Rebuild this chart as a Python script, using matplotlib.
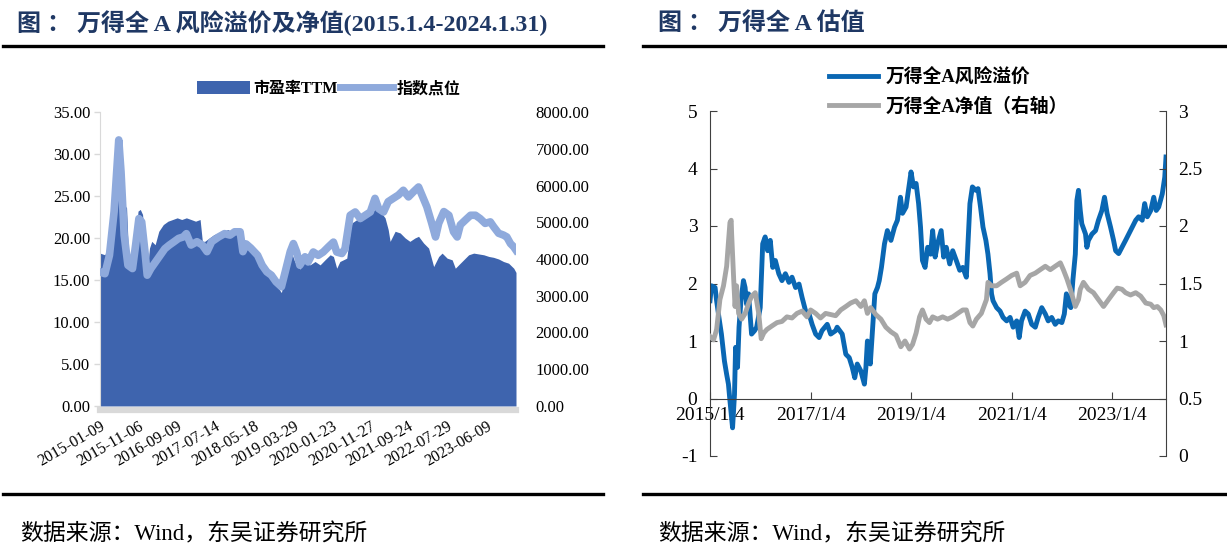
import matplotlib
matplotlib.use('Agg')
import matplotlib.pyplot as plt
import pandas as pd
from matplotlib.lines import Line2D
from matplotlib.patches import Patch
from matplotlib.font_manager import FontProperties
from matplotlib.ticker import FuncFormatter

plt.rcParams['axes.unicode_minus'] = False

SERIF = 'Liberation Serif'
MIXED = ['Liberation Serif', 'Noto Sans CJK SC']

# ---- left chart: PE TTM (area) and index level (line) ----
pe_dates = ["2015-01-09", "2015-02-17", "2015-03-14", "2015-04-13", "2015-05-01", "2015-05-19",
            "2015-06-07", "2015-07-02", "2015-07-20", "2015-08-08", "2015-08-26", "2015-09-24",
            "2015-10-19", "2015-11-07", "2015-11-25", "2015-12-13", "2016-01-01", "2016-01-19",
            "2016-02-06", "2016-02-24", "2016-03-22", "2016-04-20", "2016-05-26", "2016-07-02",
            "2016-08-08", "2016-09-13", "2016-10-19", "2016-11-25", "2017-01-01", "2017-02-06",
            "2017-03-14", "2017-04-01", "2017-04-20", "2017-05-26", "2017-07-02", "2017-08-08",
            "2017-09-13", "2017-10-19", "2017-11-25", "2018-01-01", "2018-01-26", "2018-02-24",
            "2018-04-01", "2018-05-08", "2018-06-14", "2018-07-20", "2018-08-26", "2018-10-01",
            "2018-11-07", "2018-12-20", "2019-01-30", "2019-03-10", "2019-04-04", "2019-05-15",
            "2019-06-25", "2019-08-04", "2019-09-13", "2019-10-23", "2019-12-01", "2020-01-11",
            "2020-02-06", "2020-03-03", "2020-03-28", "2020-05-22", "2020-06-20", "2020-07-02",
            "2020-08-11", "2020-09-17", "2020-10-16", "2020-11-25", "2021-01-01", "2021-02-10",
            "2021-03-22", "2021-04-16", "2021-05-01", "2021-06-10", "2021-07-20", "2021-08-29",
            "2021-10-05", "2021-11-14", "2021-12-13", "2022-01-22", "2022-03-03", "2022-04-12",
            "2022-05-22", "2022-06-18", "2022-07-28", "2022-09-06", "2022-10-01", "2022-10-27",
            "2022-12-06", "2023-01-15", "2023-02-24", "2023-04-05", "2023-05-15", "2023-06-25",
            "2023-07-31", "2023-09-10", "2023-10-19", "2023-11-28", "2024-01-08", "2024-01-26"]
pe_vals = [18.2, 18.0, 19.2, 24.4, 25.4, 24.6,
           26.0, 24.4, 24.0, 23.6, 17.2, 16.8,
           20.0, 23.2, 23.4, 22.8, 19.2, 16.0,
           18.8, 19.6, 19.2, 20.8, 21.6, 22.0,
           22.2, 22.4, 22.2, 22.4, 22.2, 22.0,
           22.2, 19.6, 19.6, 20.0, 20.4, 20.6,
           20.8, 21.0, 20.8, 21.0, 20.8, 19.2,
           19.6, 18.8, 18.2, 17.2, 16.2, 15.2,
           14.4, 13.5, 17.1, 18.3, 17.2, 16.3,
           17.2, 16.8, 17.2, 16.8, 17.4, 18.0,
           17.8, 16.4, 17.2, 17.6, 21.0, 21.8,
           22.2, 22.4, 22.8, 23.0, 23.4, 23.2,
           22.4, 21.0, 19.6, 20.8, 20.6, 20.0,
           19.6, 20.0, 20.2, 19.4, 18.8, 16.6,
           17.8, 18.2, 17.6, 17.4, 16.4, 16.8,
           17.4, 18.0, 18.2, 18.1, 18.0, 17.8,
           17.7, 17.5, 17.2, 17.0, 16.4, 15.9]

idx_dates = ["2015-01-09", "2015-02-17", "2015-03-25", "2015-05-01", "2015-06-07", "2015-06-25",
             "2015-07-20", "2015-08-19", "2015-09-24", "2015-10-19", "2015-11-14", "2015-12-06",
             "2016-01-01", "2016-01-19", "2016-02-17", "2016-03-25", "2016-05-01", "2016-06-07",
             "2016-07-13", "2016-08-19", "2016-09-24", "2016-10-31", "2016-11-25", "2017-01-01",
             "2017-02-17", "2017-04-01", "2017-05-08", "2017-06-14", "2017-08-08", "2017-09-24",
             "2017-11-07", "2017-12-13", "2018-01-26", "2018-02-17", "2018-03-14", "2018-04-20",
             "2018-06-14", "2018-07-20", "2018-08-26", "2018-10-01", "2018-11-07", "2018-12-20",
             "2019-01-19", "2019-02-28", "2019-03-25", "2019-04-20", "2019-05-15", "2019-06-25",
             "2019-07-20", "2019-08-30", "2019-10-08", "2019-11-17", "2019-12-28", "2020-02-06",
             "2020-03-03", "2020-04-13", "2020-05-08", "2020-06-18", "2020-07-28", "2020-09-06",
             "2020-10-16", "2020-11-25", "2021-01-01", "2021-01-30", "2021-03-10", "2021-04-16",
             "2021-05-26", "2021-07-06", "2021-08-14", "2021-09-24", "2021-11-03", "2021-12-13",
             "2022-02-17", "2022-03-28", "2022-04-27", "2022-05-22", "2022-07-02", "2022-08-11",
             "2022-09-17", "2022-10-16", "2022-11-10", "2022-12-20", "2023-01-30", "2023-03-10",
             "2023-04-16", "2023-05-26", "2023-07-06", "2023-08-01", "2023-09-10", "2023-10-19",
             "2023-11-14", "2023-12-13", "2024-01-08", "2024-01-26"]
idx_vals = [3650, 3600, 4100, 5290, 7240, 6370,
            4650, 3830, 3740, 4380, 5100, 5010,
            4200, 3560, 3740, 3920, 4100, 4280,
            4380, 4470, 4560, 4600, 4690, 4380,
            4470, 4380, 4200, 4470, 4600, 4690,
            4650, 4740, 4740, 4200, 4410, 4300,
            4100, 3830, 3650, 3560, 3380, 3245,
            3650, 4200, 4420, 4190, 3830, 4060,
            3920, 4190, 4100, 4190, 4330, 4460,
            4190, 4150, 4280, 5190, 5280, 5100,
            5190, 5280, 5650, 5370, 5280, 5560,
            5650, 5740, 5870, 5690, 5830, 5960,
            5420, 4970, 4600, 4970, 5290, 5190,
            4740, 4600, 4930, 5060, 5190, 5190,
            5100, 4970, 5010, 4880, 4700, 4650,
            4600, 4420, 4330, 4240]

left_tick_dates = ["2015-01-09", "2015-11-06", "2016-09-09", "2017-07-14", "2018-05-18", "2019-03-29",
                   "2020-01-23", "2020-11-27", "2021-09-24", "2022-07-29", "2023-06-09"]

# ---- right chart: risk premium (left axis) and net value (right axis) ----
rp_dates = ["2015-01-04", "2015-01-15", "2015-02-10", "2015-02-21", "2015-03-10", "2015-03-28",
            "2015-04-19", "2015-05-05", "2015-05-18", "2015-05-29", "2015-06-17", "2015-07-01",
            "2015-07-09", "2015-07-23", "2015-08-03", "2015-08-17", "2015-09-04", "2015-09-16",
            "2015-09-27", "2015-10-11", "2015-10-22", "2015-11-02", "2015-11-24", "2015-12-09",
            "2016-01-04", "2016-01-22", "2016-02-09", "2016-02-27", "2016-03-17", "2016-04-04",
            "2016-04-23", "2016-05-18", "2016-06-10", "2016-07-05", "2016-07-31", "2016-08-22",
            "2016-09-17", "2016-10-12", "2016-11-03", "2016-11-29", "2016-12-24", "2017-01-15",
            "2017-02-10", "2017-03-07", "2017-03-28", "2017-05-05", "2017-05-30", "2017-07-05",
            "2017-07-16", "2017-08-22", "2017-09-17", "2017-10-12", "2017-11-03", "2017-11-21",
            "2017-12-09", "2018-01-04", "2018-01-30", "2018-02-10", "2018-02-21", "2018-03-14",
            "2018-03-28", "2018-04-16", "2018-05-05", "2018-05-18", "2018-06-03", "2018-06-25",
            "2018-07-16", "2018-08-11", "2018-09-06", "2018-09-27", "2018-10-19", "2018-11-03",
            "2018-11-29", "2018-12-16", "2019-01-04", "2019-01-22", "2019-02-10", "2019-02-28",
            "2019-03-14", "2019-03-28", "2019-04-16", "2019-05-05", "2019-05-26", "2019-06-10",
            "2019-06-28", "2019-07-16", "2019-08-11", "2019-08-29", "2019-09-17", "2019-10-12",
            "2019-11-03", "2019-11-29", "2019-12-24", "2020-01-15", "2020-02-10", "2020-03-07",
            "2020-03-25", "2020-04-19", "2020-05-05", "2020-05-23", "2020-06-10", "2020-07-01",
            "2020-07-16", "2020-07-31", "2020-08-11", "2020-08-22", "2020-09-17", "2020-10-12",
            "2020-11-03", "2020-11-29", "2020-12-24", "2021-01-15", "2021-02-10", "2021-02-28",
            "2021-03-17", "2021-04-12", "2021-05-05", "2021-05-30", "2021-06-25", "2021-07-16",
            "2021-08-11", "2021-09-06", "2021-09-27", "2021-10-22", "2021-11-17", "2021-12-09",
            "2022-01-04", "2022-01-22", "2022-02-06", "2022-02-21", "2022-03-10", "2022-03-25",
            "2022-04-12", "2022-04-23", "2022-05-05", "2022-05-18", "2022-05-29", "2022-06-25",
            "2022-07-05", "2022-07-16", "2022-08-11", "2022-09-06", "2022-09-27", "2022-10-22",
            "2022-11-10", "2022-11-29", "2022-12-24", "2023-01-15", "2023-01-30", "2023-02-21",
            "2023-03-17", "2023-04-12", "2023-05-05", "2023-05-30", "2023-06-25", "2023-07-16",
            "2023-08-11", "2023-08-29", "2023-09-17", "2023-10-12", "2023-11-03", "2023-11-21",
            "2023-12-09", "2024-01-04", "2024-01-22", "2024-01-29", "2024-01-31"]
rp_vals = [1.70, 1.96, 1.93, 1.70, 1.41, 1.12,
           0.65, 0.42, 0.25, -0.04, -0.51, 0.07,
           0.89, 0.54, 1.24, 1.70, 2.05, 1.93,
           1.64, 1.82, 1.47, 1.12, 1.18, 1.24,
           1.58, 2.69, 2.81, 2.57, 2.75, 2.28,
           2.40, 2.17, 2.05, 2.17, 2.02, 2.11,
           1.93, 1.99, 1.76, 1.52, 1.47, 1.29,
           1.12, 1.06, 1.18, 1.29, 1.12, 1.18,
           1.24, 1.12, 0.77, 0.71, 0.54, 0.36,
           0.60, 0.48, 0.25, 0.54, 1.00, 0.60,
           1.12, 1.82, 1.93, 2.05, 2.28, 2.69,
           2.92, 2.75, 2.98, 3.10, 3.50, 3.22,
           3.33, 3.62, 3.94, 3.68, 3.74, 3.39,
           2.98, 2.40, 2.28, 2.63, 2.51, 2.92,
           2.46, 2.69, 2.92, 2.46, 2.63, 2.34,
           2.57, 2.40, 2.23, 2.28, 2.11, 3.39,
           3.68, 3.62, 3.65, 3.33, 2.98, 2.75,
           2.51, 2.17, 1.82, 1.70, 1.58, 1.52,
           1.41, 1.35, 1.41, 1.24, 1.35, 1.06,
           1.35, 1.52, 1.47, 1.29, 1.24, 1.41,
           1.58, 1.47, 1.35, 1.41, 1.29, 1.35,
           1.32, 1.47, 1.82, 1.64, 1.58, 2.05,
           2.51, 3.44, 3.62, 3.27, 3.04, 2.86,
           2.63, 2.75, 2.86, 2.92, 3.10, 3.27,
           3.50, 3.22, 2.98, 2.75, 2.57, 2.52,
           2.63, 2.75, 2.86, 2.98, 3.10, 3.16,
           3.10, 3.39, 3.16, 3.27, 3.50, 3.27,
           3.33, 3.56, 3.85, 4.14, 4.20]

nv_dates = ["2015-01-04", "2015-01-30", "2015-02-21", "2015-03-17", "2015-04-12", "2015-05-05",
            "2015-05-18", "2015-05-29", "2015-06-07", "2015-06-10", "2015-06-25", "2015-07-05",
            "2015-07-16", "2015-07-31", "2015-08-22", "2015-09-17", "2015-10-12", "2015-11-03",
            "2015-11-29", "2015-12-24", "2016-01-11", "2016-01-30", "2016-02-21", "2016-03-28",
            "2016-05-05", "2016-06-10", "2016-07-16", "2016-08-22", "2016-09-27", "2016-11-03",
            "2016-12-09", "2017-01-04", "2017-02-10", "2017-03-17", "2017-04-23", "2017-05-30",
            "2017-07-05", "2017-08-11", "2017-09-17", "2017-10-22", "2017-11-29", "2018-01-04",
            "2018-01-30", "2018-02-21", "2018-03-17", "2018-04-23", "2018-05-30", "2018-07-05",
            "2018-08-11", "2018-09-17", "2018-10-22", "2018-11-21", "2018-12-24", "2019-01-15",
            "2019-02-10", "2019-03-07", "2019-03-28", "2019-04-23", "2019-05-18", "2019-06-10",
            "2019-07-16", "2019-08-22", "2019-09-27", "2019-11-03", "2019-12-09", "2020-01-15",
            "2020-02-10", "2020-03-07", "2020-03-28", "2020-04-23", "2020-05-29", "2020-07-05",
            "2020-07-16", "2020-08-11", "2020-09-17", "2020-10-22", "2020-11-29", "2021-01-04",
            "2021-02-10", "2021-03-07", "2021-04-12", "2021-05-18", "2021-06-25", "2021-07-31",
            "2021-09-06", "2021-10-12", "2021-11-17", "2021-12-24", "2022-01-15", "2022-02-10",
            "2022-03-07", "2022-04-12", "2022-05-05", "2022-05-18", "2022-06-10", "2022-07-16",
            "2022-08-22", "2022-09-27", "2022-11-03", "2022-12-09", "2023-01-15", "2023-02-10",
            "2023-03-17", "2023-04-12", "2023-05-18", "2023-06-25", "2023-07-31", "2023-09-06",
            "2023-10-12", "2023-11-03", "2023-11-29", "2023-12-24", "2024-01-15", "2024-01-31"]
nv_vals = [1.04, 1.01, 1.10, 1.36, 1.48, 1.65,
           1.86, 2.03, 2.05, 1.94, 1.54, 1.30,
           1.48, 1.24, 1.19, 1.24, 1.33, 1.39,
           1.42, 1.24, 1.02, 1.07, 1.10, 1.13,
           1.16, 1.17, 1.21, 1.20, 1.24, 1.26,
           1.21, 1.27, 1.24, 1.20, 1.24, 1.23,
           1.22, 1.27, 1.30, 1.33, 1.35, 1.30,
           1.35, 1.24, 1.29, 1.23, 1.19, 1.12,
           1.08, 1.05, 0.95, 1.00, 0.93, 0.97,
           1.07, 1.21, 1.27, 1.19, 1.16, 1.21,
           1.19, 1.21, 1.19, 1.21, 1.24, 1.27,
           1.27, 1.16, 1.13, 1.19, 1.24, 1.36,
           1.51, 1.48, 1.48, 1.51, 1.54, 1.57,
           1.59, 1.48, 1.51, 1.57, 1.59, 1.62,
           1.65, 1.62, 1.65, 1.68, 1.62, 1.54,
           1.45, 1.30, 1.36, 1.45, 1.51, 1.45,
           1.42, 1.36, 1.30, 1.36, 1.42, 1.46,
           1.45, 1.42, 1.40, 1.42, 1.39, 1.33,
           1.32, 1.29, 1.30, 1.27, 1.22, 1.14]

right_tick_dates = ["2015-01-04", "2017-01-04", "2019-01-04", "2021-01-04", "2023-01-04"]
right_tick_labels = ["2015/1/4", "2017/1/4", "2019/1/4", "2021/1/4", "2023/1/4"]

c_pe = '#3E64AE'
c_idx = '#8FAADC'
c_rp = '#0A67B3'
c_nv = '#A6A6A6'
c_title = '#1F3864'

fig = plt.figure(figsize=(12.27, 5.55), dpi=100)

# titles, separator lines, source notes
fig.text(0.014, 0.958, '图 ： 万得全 A 风险溢价及净值(2015.1.4-2024.1.31)', family=MIXED,
         weight='bold', fontsize=17.3, color=c_title, va='center', ha='left')
fig.text(0.536, 0.958, '图 ： 万得全 A 估值', family=MIXED,
         weight='bold', fontsize=17.3, color=c_title, va='center', ha='left')
for y in (1 - 45.5 / 555, 1 - 494 / 555):
    fig.add_artist(Line2D([3 / 1227, 603 / 1227], [y, y], color='black', lw=2.4))
    fig.add_artist(Line2D([643 / 1227, 1.0], [y, y], color='black', lw=2.4))
for x in (0.016, 0.536):
    fig.text(x, 1 - 534 / 555, '数据来源：Wind，东吴证券研究所', family=MIXED,
             fontsize=16.5, color='black', va='center', ha='left')

# ---- left chart ----
ax1 = fig.add_axes([100 / 1227, 1 - 406 / 555, 416 / 1227, 294 / 555])
ax1.fill_between(pd.to_datetime(pe_dates), pe_vals, 0, color=c_pe, lw=0, zorder=1)
ax1.set_ylim(0, 35)
ax1.set_yticks(range(0, 36, 5))
ax1.yaxis.set_major_formatter(FuncFormatter(lambda v, p: f'{v:.2f}'))
ax1.set_xlim(pd.Timestamp('2015-01-09'), pd.Timestamp('2024-01-26'))
for s in ('top', 'right'):
    ax1.spines[s].set_visible(False)
ax1.spines['left'].set_color('#D9D9D9')
ax1.spines['bottom'].set_color('#D9D9D9')
ax1.spines['bottom'].set_linewidth(4.5)
ax1.spines['bottom'].set_position(('outward', 3))
ax1.tick_params(axis='y', colors='#D9D9D9', labelcolor='black', length=4, width=1, pad=3,
                labelsize=12)

ax1b = ax1.twinx()
ax1b.plot(pd.to_datetime(idx_dates), idx_vals, color=c_idx, lw=5.5, solid_joinstyle='round')
ax1b.set_ylim(0, 8000)
ax1b.set_yticks(range(0, 8001, 1000))
ax1b.yaxis.set_major_formatter(FuncFormatter(lambda v, p: f'{v:.2f}'))
for s in ax1b.spines.values():
    s.set_visible(False)
ax1b.tick_params(axis='y', length=0, pad=14, labelsize=12)

ax1.set_xticks(pd.to_datetime(left_tick_dates))
ax1.set_xticklabels(left_tick_dates)
ax1.tick_params(axis='x', length=0, pad=6, labelsize=11.5, labelrotation=30)

fig.legend([Patch(facecolor=c_pe, edgecolor='none'), Line2D([], [], color=c_idx, lw=5)],
           ['市盈率TTM', '指数点位'], loc='center left', bbox_to_anchor=(197 / 1227, 1 - 89 / 555),
           ncol=2, frameon=False, borderpad=0, borderaxespad=0, handlelength=3.3,
           handleheight=0.9, handletextpad=0.2, columnspacing=0.2,
           prop=FontProperties(family=MIXED, weight='bold', size=11.5))

# ---- right chart ----
ax2 = fig.add_axes([710 / 1227, 1 - 456 / 555, 456 / 1227, 345 / 555])
ax2.plot(pd.to_datetime(rp_dates), rp_vals, color=c_rp, lw=3.5)
ax2.set_ylim(-1, 5)
ax2.set_yticks(range(-1, 6))
ax2.set_xlim(pd.Timestamp('2015-01-04'), pd.Timestamp('2024-01-31'))
ax2.spines['top'].set_visible(False)
ax2.spines['right'].set_visible(False)
ax2.spines['bottom'].set_position(('data', 0))
for s in ('left', 'bottom'):
    ax2.spines[s].set_color('#404040')

ax2b = ax2.twinx()
ax2b.plot(pd.to_datetime(nv_dates), nv_vals, color=c_nv, lw=3.5)
ax2b.set_ylim(0, 3)
ax2b.set_yticks([0, 0.5, 1, 1.5, 2, 2.5, 3])
ax2b.yaxis.set_major_formatter(FuncFormatter(lambda v, p: f'{v:g}'))
for s in ('top', 'left', 'bottom'):
    ax2b.spines[s].set_visible(False)
ax2b.spines['right'].set_color('#404040')
ax2b.tick_params(axis='y', direction='in', length=5, color='#404040', labelsize=14, pad=9)

ax2.set_xticks(pd.to_datetime(right_tick_dates))
ax2.set_xticklabels(right_tick_labels)
ax2.tick_params(axis='both', direction='in', length=5, color='#404040', labelsize=14)
ax2.tick_params(axis='y', pad=9)
ax2.tick_params(axis='x', pad=6)

fig.legend([Line2D([], [], color=c_rp, lw=3.5), Line2D([], [], color=c_nv, lw=3.5)],
           ['万得全A风险溢价', '万得全A净值（右轴）'], loc='center left',
           bbox_to_anchor=(829 / 1227, 1 - 92 / 555), ncol=1, frameon=False, borderpad=0,
           borderaxespad=0, handlelength=2.6, handletextpad=0.4, labelspacing=0.6,
           prop=FontProperties(family=MIXED, weight='bold', size=13.5))

# tick label fonts, set last so the twin axes cannot reset them
for ax in (ax1, ax1b, ax2, ax2b):
    for lab in ax.get_xticklabels() + ax.get_yticklabels():
        lab.set_family(SERIF)
for lab in ax1.get_xticklabels():
    lab.set_ha('right')
    lab.set_rotation_mode('anchor')

fig.savefig('out.png', dpi=100)
